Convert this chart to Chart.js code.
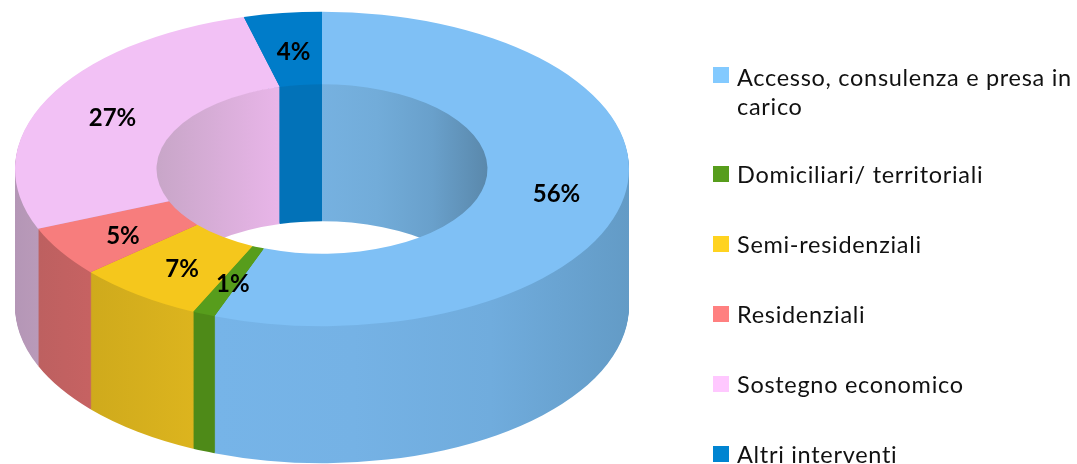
<!DOCTYPE html>
<html>
<head>
<meta charset="utf-8">
<script src="https://cdn.jsdelivr.net/npm/chart.js@4"></script>
<style>
html,body{margin:0;padding:0;background:#fff;width:1077px;height:464px;overflow:hidden}
#wrap{position:relative;width:1077px;height:464px}
canvas{position:absolute;left:0;top:0}
.sw{position:absolute;left:713px;width:16px;height:16px}
.lb{position:absolute;left:737px;width:340px;font:23.5px/29px Lato,sans-serif;color:#111;letter-spacing:.7px}
</style>
</head>
<body>
<div id="wrap"><canvas id="c" width="1077" height="464"></canvas></div>
<script>
const categories = ["Accesso, consulenza e presa in carico","Domiciliari/ territoriali","Semi-residenziali","Residenziali","Sostegno economico","Altri interventi"];
const values = [55.7,1.2,6.7,5.2,27.1,4.1];
const topColors = ["#7fc0f5","#579d1c","#f5c71c","#f77d7d","#f2c1f5","#007cc9"];
const legendColors = ["#83caff","#579d1c","#ffd320","#ff8080","#ffc8ff","#0084d1"];
const outerWall = [["#76b4e8","#75b2e5","#70acdd","#639bc6"],["#4e8a18","#4e8a18"],["#cfaa1c","#dcb41e"],["#bd6060","#c66262"],["#b496b6","#b99ab9"],["#0272b8","#0272b8"]];
const innerWall = [["#76b1e0","#72acd9","#69a0cb","#5a88ab"],["#4e8a18","#4e8a18"],["#cfaa1c","#dcb41e"],["#bd6060","#c66262"],["#c8a6c8","#e8b5e8"],["#0272b8","#0272b8"]];

const TILT = 0.512, CY = 169, DEPTH = 137, RX = 307, RH = 165.5;

function ramp(ctx, stops, x0, x1){
  const g = ctx.createLinearGradient(x0,0,x1,0);
  stops.forEach((s,i)=>g.addColorStop(i/(stops.length-1),s));
  return g;
}
function paint(ctx, el, fill, d){
  const saved = el.options;
  el.options = Object.create(saved,{backgroundColor:{value:fill}});
  ctx.save();
  ctx.translate(0, CY + d - el.y*TILT);
  ctx.scale(1,TILT);
  el.draw(ctx);
  ctx.restore();
  el.options = saved;
}
const ring3d = {
  id:'ring3d',
  beforeDatasetsDraw(chart){
    const ctx = chart.ctx, arcs = chart.getDatasetMeta(0).data;
    const o = arcs[0];
    const ranges = [[215,629],[193,215],[90,193],[38,90],[15,38],[243,322]];
    const holeRanges = [[322,488],[228,262],[228,262],[228,262],[157,277],[277,322]];
    const og = outerWall.map((s,i)=>ramp(ctx,s,ranges[i][0],ranges[i][1]));
    for(let d=DEPTH;d>0;d--) arcs.forEach((a,i)=>paint(ctx,a,og[i],d));
    const ig = innerWall.map((s,i)=>ramp(ctx,s,holeRanges[i][0],holeRanges[i][1]));
    ctx.save();
    ctx.beginPath();
    ctx.ellipse(o.x,CY,o.innerRadius,o.innerRadius*TILT,0,0,Math.PI*2);
    ctx.clip();
    ctx.fillStyle='#fff';ctx.fill();
    for(let d=DEPTH;d>0;d--) arcs.forEach((a,i)=>paint(ctx,a,ig[i],d));
    ctx.restore();
    arcs.forEach((a,i)=>paint(ctx,a,topColors[i],0));
    ctx.save();
    ctx.font='bold 24px Lato, sans-serif';
    ctx.fillStyle='#000';ctx.textAlign='center';ctx.textBaseline='middle';
    arcs.forEach((a,i)=>{
      const p=a.getCenterPoint();
      ctx.fillText(Math.round(values[i])+'%',p.x+2,CY+(p.y-a.y)*TILT+3.5);
    });
    ctx.restore();
    return false;
  }
};
new Chart(document.getElementById('c'),{
  type:'doughnut',
  data:{labels:categories,datasets:[{data:values,backgroundColor:topColors,borderWidth:0}]},
  options:{
    responsive:false,animation:false,
    radius:RX,cutout:(RH/RX*100)+'%',
    layout:{padding:{right:433}},
    plugins:{legend:{display:false},tooltip:{enabled:false}}
  },
  plugins:[ring3d]
});
const wrap=document.getElementById('wrap');
const swatchTop=[67,166,236,306,376,446], textTop=[63,160,230,300,370,440];
categories.forEach((t,i)=>{
  const s=document.createElement('div');s.className='sw';s.style.top=swatchTop[i]+'px';s.style.background=legendColors[i];wrap.appendChild(s);
  const l=document.createElement('div');l.className='lb';l.style.top=textTop[i]+'px';l.textContent=t;wrap.appendChild(l);
});
</script>
</body>
</html>
